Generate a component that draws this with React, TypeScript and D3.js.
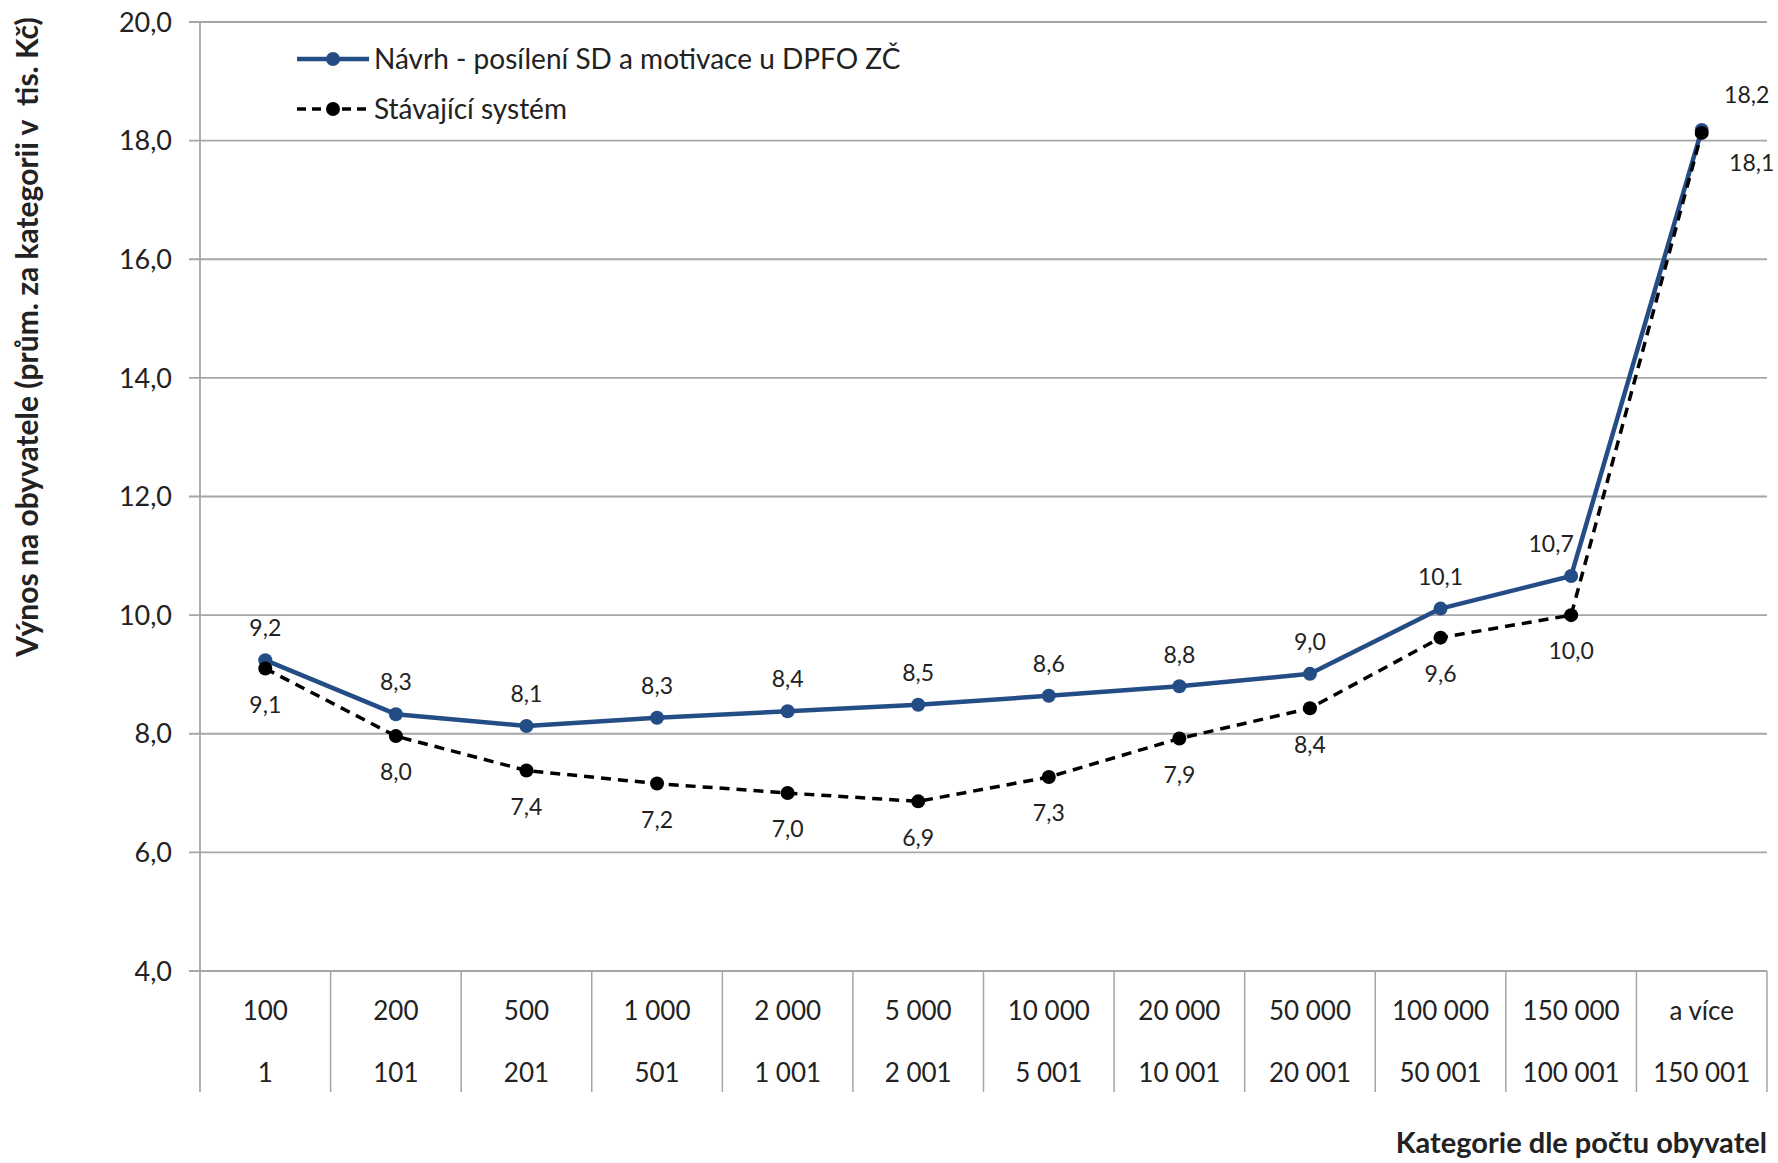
import React from "react";
import * as d3 from "d3";

const categoriesTop = ["100", "200", "500", "1 000", "2 000", "5 000", "10 000", "20 000", "50 000", "100 000", "150 000", "a více"];
const categoriesBottom = ["1", "101", "201", "501", "1 001", "2 001", "5 001", "10 001", "20 001", "50 001", "100 001", "150 001"];
const navrh = [9.24, 8.33, 8.13, 8.27, 8.38, 8.49, 8.64, 8.8, 9.01, 10.11, 10.66, 18.18];
const stavajici = [9.1, 7.96, 7.38, 7.16, 7.0, 6.86, 7.27, 7.92, 8.43, 9.62, 10.0, 18.13];
const yTicks = [4, 6, 8, 10, 12, 14, 16, 18, 20];
const seriesNames = ["Návrh - posílení SD a motivace u DPFO ZČ", "Stávající systém"];

const W = 1778;
const H = 1163;
const FONT = "Lato, 'Open Sans', sans-serif";
const BLUE = "#244d86";
const GRID = "#a6a6a6";

export default function App() {
  const left = 200, right = 1767, top = 22, bottom = 971;
  const x = d3.scaleBand<number>().domain(d3.range(categoriesTop.length)).range([left, right]);
  const y = d3.scaleLinear().domain([4, 20]).range([bottom, top]);
  const cx = (i: number) => (x(i) as number) + x.bandwidth() / 2;
  const line = d3.line<number>().x((_, i) => cx(i)).y((d) => y(d));
  const fmt = (v: number) => v.toFixed(1).replace(".", ",");
  const n = categoriesTop.length;
  const navrhDx = (i: number) => (i === n - 1 ? 45 : i === n - 2 ? -20 : 0);

  return (
    <svg width={W} height={H} style={{ position: "absolute", left: 0, top: 0, background: "#fff" }} fontFamily={FONT}>
      <rect x={0} y={0} width={W} height={H} fill="#fff" />
      {yTicks.map((t) => (
        <g key={t}>
          <line x1={left - 11} x2={right} y1={y(t)} y2={y(t)} stroke={GRID} strokeWidth={1.8} />
          <text x={172} y={y(t)} dy="0.36em" textAnchor="end" fontSize={27} fill="#222">{fmt(t)}</text>
        </g>
      ))}
      <line x1={left} x2={left} y1={top} y2={1092} stroke={GRID} strokeWidth={1.8} />
      {d3.range(1, n + 1).map((i) => {
        const xx = i < n ? (x(i) as number) : right;
        return <line key={i} x1={xx} x2={xx} y1={bottom} y2={1092} stroke={GRID} strokeWidth={1.5} />;
      })}
      {categoriesTop.map((c, i) => (
        <text key={"t" + i} x={cx(i)} y={1011} dy="0.36em" textAnchor="middle" fontSize={26} fill="#222">{c}</text>
      ))}
      {categoriesBottom.map((c, i) => (
        <text key={"b" + i} x={cx(i)} y={1073} dy="0.36em" textAnchor="middle" fontSize={26} fill="#222">{c}</text>
      ))}
      <path d={line(navrh) as string} fill="none" stroke={BLUE} strokeWidth={4.5} strokeLinejoin="round" />
      {navrh.map((v, i) => (
        <circle key={"n" + i} cx={cx(i)} cy={y(v)} r={7} fill={BLUE} />
      ))}
      <path d={line(stavajici) as string} fill="none" stroke="#000" strokeWidth={3.5} strokeDasharray="10,7" />
      {stavajici.map((v, i) => (
        <circle key={"s" + i} cx={cx(i)} cy={y(v)} r={7} fill="#000" />
      ))}
      {navrh.map((v, i) => (
        <text key={"ln" + i} x={cx(i) + navrhDx(i)} y={y(v) - (i === n - 1 ? 35 : 32)} dy="0.36em" textAnchor="middle" fontSize={23} fill="#222">{fmt(v)}</text>
      ))}
      {stavajici.map((v, i) => (
        <text key={"ls" + i} x={cx(i) + (i === n - 1 ? 50 : 0)} y={y(v) + (i === n - 1 ? 30 : 36)} dy="0.36em" textAnchor="middle" fontSize={23} fill="#222">{fmt(v)}</text>
      ))}
      <line x1={297} x2={369} y1={59} y2={59} stroke={BLUE} strokeWidth={4.5} />
      <circle cx={333} cy={59} r={7} fill={BLUE} />
      <text x={374} y={59} dy="0.36em" fontSize={28} fill="#222">{seriesNames[0]}</text>
      <line x1={297} x2={369} y1={109} y2={109} stroke="#000" strokeWidth={3.5} strokeDasharray="9,6" />
      <circle cx={333} cy={109} r={7} fill="#000" />
      <text x={374} y={109} dy="0.36em" fontSize={28} fill="#222">{seriesNames[1]}</text>
      <text transform={`translate(27,337) rotate(-90)`} dy="0.36em" textAnchor="middle" fontSize={30} fontWeight="bold" fill="#222" style={{ whiteSpace: "pre" }}>Výnos na obyvatele (prům. za kategorii v  tis. Kč)</text>
      <text x={1767} y={1143} dy="0.36em" textAnchor="end" fontSize={29} fontWeight="bold" fill="#222">Kategorie dle počtu obyvatel</text>
    </svg>
  );
}
